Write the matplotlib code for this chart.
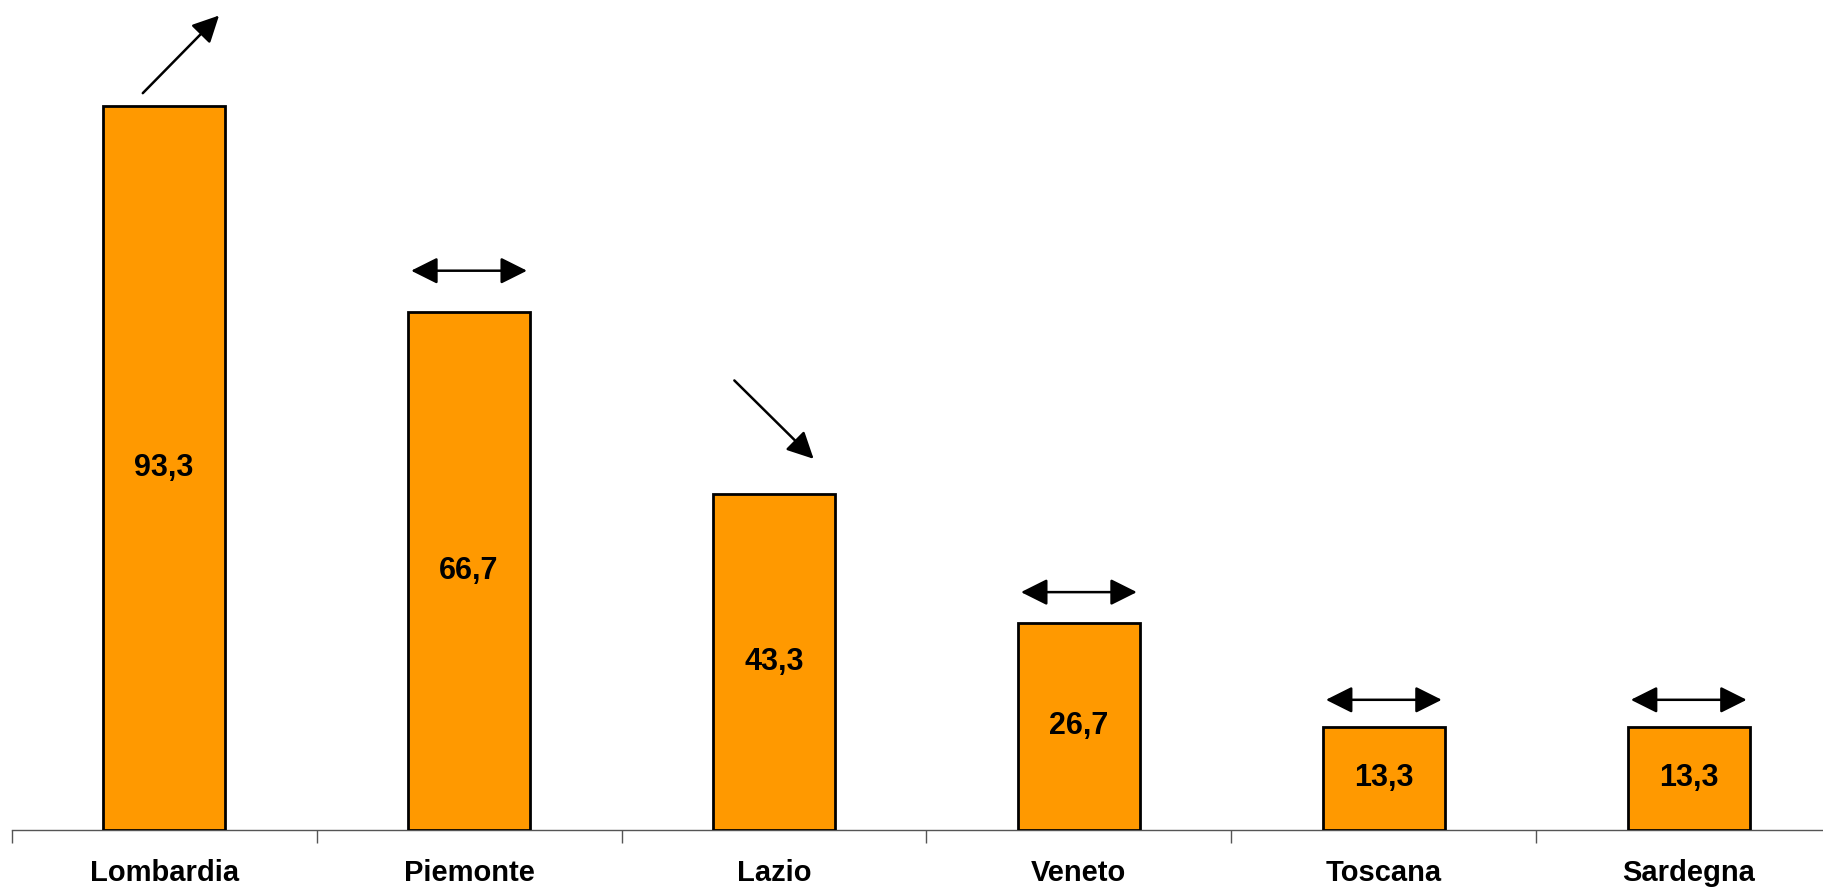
import matplotlib
matplotlib.use("Agg")
import matplotlib.pyplot as plt
import numpy as np

# dati
regioni = ["Lombardia", "Piemonte", "Lazio", "Veneto", "Toscana", "Sardegna"]
valori = [93.3, 66.7, 43.3, 26.7, 13.3, 13.3]
tendenza = ["su", "stabile", "giu", "stabile", "stabile", "stabile"]

plt.rcParams['font.family'] = ['Liberation Sans', 'DejaVu Sans']

fig = plt.figure(figsize=(18.23, 8.91), dpi=100)
ax = fig.add_axes([0.0064, 0.0685, 1.0036, 0.9315])

x = np.arange(len(regioni))
ax.bar(x, valori, width=0.4, color="#FF9900", edgecolor="black", linewidth=2, zorder=3)

# etichette dentro le barre
for xi, v in zip(x, valori):
    ax.text(xi, v / 2, f"{v:.1f}".replace(".", ","), ha="center", va="center",
            fontsize=22, fontweight="bold", zorder=4)

# frecce di tendenza
stile = dict(lw=1.8, color="black", shrinkA=0, shrinkB=0, mutation_scale=18)
for xi, v, t in zip(x, valori, tendenza):
    if t == "su":
        ax.annotate("", xy=(xi + 0.18, v + 11.6), xytext=(xi - 0.07, v + 1.6),
                    arrowprops=dict(arrowstyle="-|>,head_length=0.9,head_width=0.45", **stile))
    elif t == "giu":
        ax.annotate("", xy=(xi + 0.13, v + 4.5), xytext=(xi - 0.13, v + 14.6),
                    arrowprops=dict(arrowstyle="-|>,head_length=0.9,head_width=0.45", **stile))
    else:
        yy = v + 3 + 0.035 * v
        ax.annotate("", xy=(xi + 0.19, yy), xytext=(xi - 0.19, yy),
                    arrowprops=dict(arrowstyle="<|-|>,head_length=0.9,head_width=0.45", **stile))

ax.set_xlim(-0.5, 5.5)
ax.set_ylim(0, 106.9)
ax.set_xticks(np.arange(-0.5, 6, 1))
ax.set_xticklabels([])
ax.set_xticks(x, minor=True)
ax.set_xticklabels(regioni, minor=True, fontsize=21, fontweight="bold")
ax.tick_params(axis="x", which="major", length=9, width=1, color="#555555", direction="out")
ax.tick_params(axis="x", which="minor", length=0, pad=21)
ax.set_yticks([])
for s in ["top", "right", "left"]:
    ax.spines[s].set_visible(False)
ax.spines["bottom"].set_color("#555555")
ax.spines["bottom"].set_linewidth(1)
ax.patch.set_alpha(0)

fig.savefig("out.png", dpi=100)
